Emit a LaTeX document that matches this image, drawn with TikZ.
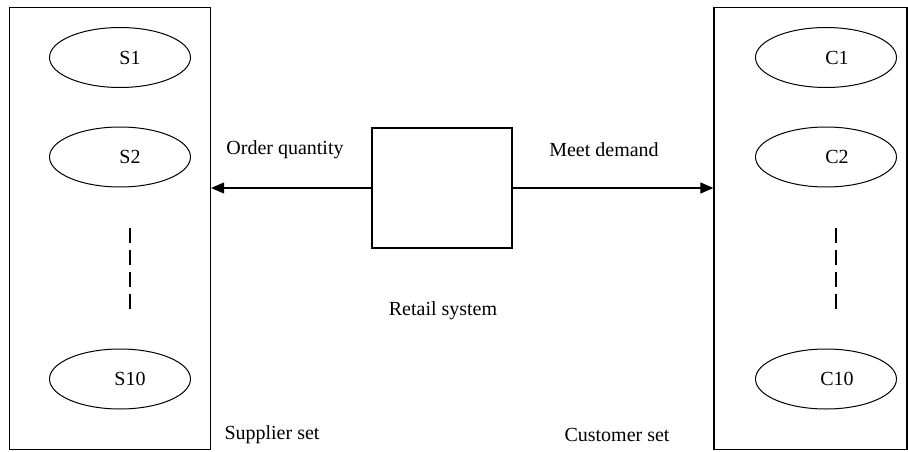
\documentclass[tikz,border=0pt]{standalone}
\usepackage{fontspec}
\setmainfont{Liberation Serif}
\usetikzlibrary{shapes.geometric,arrows.meta}
\begin{document}
\begin{tikzpicture}[x=1pt,y=-1pt,
  every node/.style={font=\fontsize{20}{23}\selectfont},
  setbox/.style={draw,line width=1.3pt,minimum height=442pt,inner sep=0pt},
  elem/.style={draw,ellipse,line width=1pt,minimum width=141pt,minimum height=60pt,inner sep=0pt},
  rsbox/.style={draw,line width=1.2pt,minimum width=140pt,minimum height=120pt,inner sep=0pt},
  flow/.style={line width=1.2pt,-{Triangle[length=13pt,width=11pt]}},
  dots/.style={line width=1.2pt,dash pattern=on 15pt off 7pt},
  lbl/.style={inner sep=0pt}
]
\useasboundingbox (0,0) rectangle (908,452);
% sets
\node[setbox,minimum width=201pt] (sup) at (110,228.5) {};
\node[setbox,minimum width=193pt] (cus) at (810.5,228.5) {};
% supplier elements
\node[elem,label={[xshift=10pt,lbl]center:S1}] (s1) at (120,57.5) {};
\node[elem,label={[xshift=10pt,lbl]center:S2}] (s2) at (120,157) {};
\node[elem,label={[xshift=10pt,lbl]center:S10}] (s10) at (120,379) {};
\coordinate (sd1) at (130,228);
\coordinate (sd2) at (130,310);
\draw[dots] (sd1) -- (sd2);
% customer elements
\node[elem,label={[xshift=11pt,lbl]center:C1}] (c1) at (826,57.5) {};
\node[elem,label={[xshift=11pt,lbl]center:C2}] (c2) at (826,157) {};
\node[elem,label={[xshift=11pt,lbl]center:C10}] (c10) at (826,379) {};
\coordinate (cd1) at (836,228);
\coordinate (cd2) at (836,310);
\draw[dots] (cd1) -- (cd2);
% retail system
\node[rsbox] (rs) at (442,188) {};
\draw[flow] (rs.west) -- (sup.east |- rs.west);
\draw[flow] (rs.east) -- (cus.west |- rs.east);
% labels
\node[lbl] (oq) at (285,150) {Order quantity};
\node[lbl] (md) at (604,150) {Meet demand};
\node[lbl] (rsl) at (443,311) {Retail system};
\node[lbl] (ssl) at (272,435) {Supplier set};
\node[lbl] (csl) at (617,435) {Customer set};
\end{tikzpicture}
\end{document}
